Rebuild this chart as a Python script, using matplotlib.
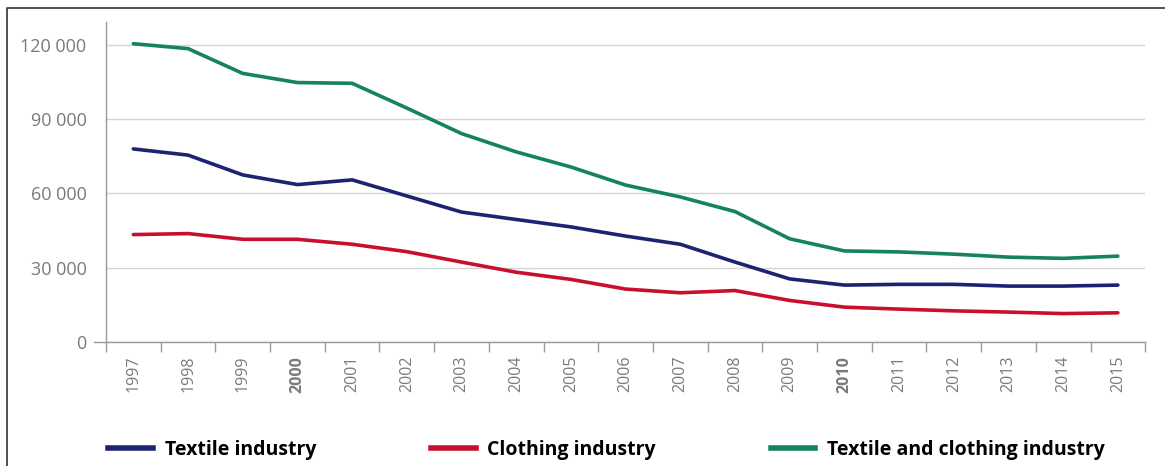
import matplotlib
matplotlib.use("Agg")
import matplotlib.pyplot as plt
from matplotlib.lines import Line2D

years = [str(y) for y in range(1997, 2016)]
textile = [78000, 75500, 67500, 63600, 65500, 59000, 52500, 49500, 46500,
           42800, 39500, 32300, 25500, 23000, 23300, 23300, 22600, 22600, 23000]
clothing = [43400, 43800, 41500, 41500, 39500, 36500, 32300, 28200, 25300,
            21400, 19900, 20800, 16800, 14100, 13300, 12600, 12100, 11500, 11800]
total = [120500, 118500, 108500, 104800, 104500, 94500, 84200, 76800, 70700,
         63400, 58600, 52700, 41700, 36800, 36400, 35500, 34300, 33800, 34700]

series_names = ["Textile industry", "Clothing industry", "Textile and clothing industry"]
colors = ["#1c2472", "#c8102e", "#16835a"]
yticks = [0, 30000, 60000, 90000, 120000]
bold_years = ["2000", "2010"]

plt.rcParams['font.family'] = ['Open Sans', 'DejaVu Sans']
grey = "#7a7a7a"

fig = plt.figure(figsize=(11.65, 4.66), dpi=100)
ax = fig.add_axes([0.091, 0.266, 0.892, 0.687])

x = list(range(len(years)))
for vals, c in zip([textile, clothing, total], colors):
    ax.plot(x, vals, color=c, lw=2.6, solid_capstyle='round', zorder=3)

ax.set_xlim(-0.5, len(years) - 0.5)
ax.set_ylim(0, 129300)
ax.set_yticks(yticks)
ax.set_yticklabels([f"{v:,}".replace(",", " ") for v in yticks], color=grey, fontsize=13)
ax.yaxis.grid(True, color="#d4d4d4", lw=1)
ax.set_axisbelow(True)
ax.tick_params(axis='y', length=0, pad=14)

ax.set_xticks(x)
ax.set_xticklabels(years, rotation=90, color=grey, fontsize=11.5)
for lab in ax.get_xticklabels():
    if lab.get_text() in bold_years:
        lab.set_fontweight('bold')
ax.set_xticks([i - 0.5 for i in range(len(years) + 1)], minor=True)
ax.tick_params(axis='x', which='major', length=0, pad=10)
ax.tick_params(axis='x', which='minor', length=7, color="#9a9a9a", width=1)

for s in ['top', 'right']:
    ax.spines[s].set_visible(False)
for s in ['left', 'bottom']:
    ax.spines[s].set_color("#9a9a9a")
    ax.spines[s].set_linewidth(1)
ax.add_line(Line2D([-0.012, 0], [0, 0], transform=ax.transAxes, color="#9a9a9a",
                   lw=1, clip_on=False))

# legend along the bottom
handles = [Line2D([], [], color=c, lw=4) for c in colors]
leg = fig.legend(handles, series_names, loc='lower left', bbox_to_anchor=(0.078, -0.025),
                 ncol=3, frameon=False, handlelength=2.3, handletextpad=0.6,
                 columnspacing=5.9, prop={'weight': 'bold', 'size': 14})

# outer frame (left and top edges)
fig.add_artist(Line2D([0.006, 0.006, 1.0], [0.0, 0.983, 0.983], transform=fig.transFigure,
                      color="#333333", lw=1.2))

fig.savefig("out.png", dpi=100)
